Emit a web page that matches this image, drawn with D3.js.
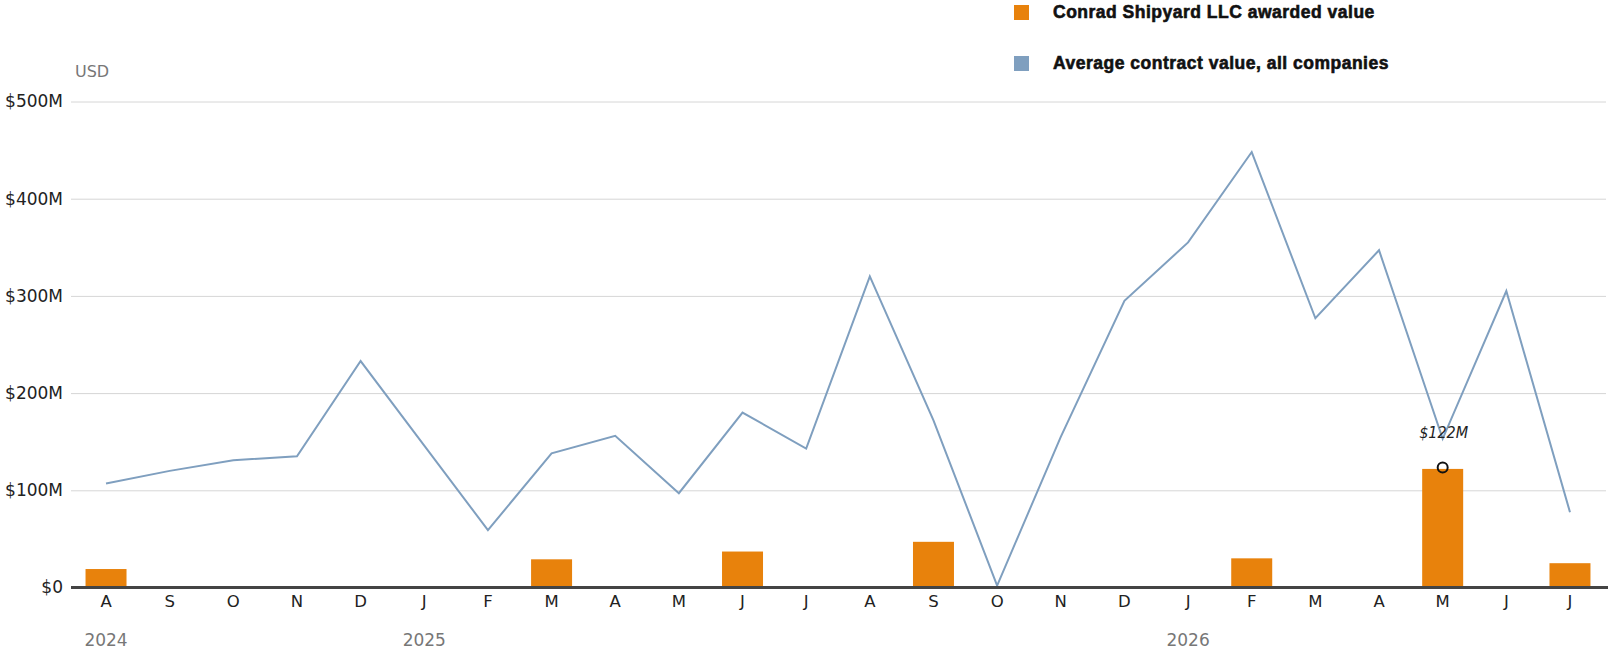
<!DOCTYPE html>
<html>
<head>
<meta charset="utf-8">
<script src="https://cdn.jsdelivr.net/npm/d3@7"></script>
<style>
  html, body { margin: 0; padding: 0; background: #fff; }
  svg { display: block; }
</style>
</head>
<body>
<svg id="chart" width="1610" height="656"></svg>
<script>
// ---- Data ----
const months = ["2024-08","2024-09","2024-10","2024-11","2024-12","2025-01","2025-02","2025-03","2025-04","2025-05","2025-06","2025-07",
                "2025-08","2025-09","2025-10","2025-11","2025-12","2026-01","2026-02","2026-03","2026-04","2026-05","2026-06","2026-07"];
const monthLabels = ["A","S","O","N","D","J","F","M","A","M","J","J","A","S","O","N","D","J","F","M","A","M","J","J"];
const conradValues = [19,0,0,0,0,0,0,29,0,0,37,0,0,47,0,0,0,0,30,0,0,122,0,25];
const avgValues = [107,120,131,135,233,146,59,138,156,97,180,143,320,172,2,155,295,355,448,277,347,153,305,77.5];
const yTicks = [0,100,200,300,400,500];
const yTickLabels = ["$0","$100M","$200M","$300M","$400M","$500M"];
const yearMonths = ["2024-08","2025-01","2026-01"];
const yearLabels = ["2024","2025","2026"];
const seriesNames = ["Conrad Shipyard LLC awarded value","Average contract value, all companies"];
const seriesColors = ["#e8820c","#7f9fbf"];
const annotationMonth = "2026-05";
const annotationValue = 122;
const annotationLabel = "$122M";

// ---- Layout ----
const svg = d3.select("#chart");
const plotLeft = 71, plotRight = 1606;
const x = d3.scaleBand().domain(months).range([74.2, 1601.8]).paddingInner(0.356).paddingOuter(0.178);
const y = d3.scaleLinear().domain([0, 500]).range([587.5, 101.5]);
const xc = d => x(d) + x.bandwidth() / 2;
const font = "'DejaVu Sans', sans-serif";

// Grid + y labels
const yAxis = svg.append("g").attr("transform", `translate(${plotLeft},0)`)
  .call(d3.axisLeft(y).tickValues(yTicks).tickFormat((d, i) => yTickLabels[i])
    .tickSizeInner(-(plotRight - plotLeft)).tickSizeOuter(0).tickPadding(8));
yAxis.select(".domain").remove();
yAxis.selectAll(".tick line").attr("stroke", "#d6d6d6").attr("stroke-width", 1);
yAxis.selectAll(".tick text").attr("font-family", font).attr("font-size", 17).attr("fill", "#222");

// USD label
svg.append("text").attr("x", 75).attr("y", 76.5).attr("font-family", font)
  .attr("font-size", 16).attr("fill", "#777").text("USD");

// Bars
svg.append("g").selectAll("rect").data(months).join("rect")
  .attr("x", d => x(d)).attr("width", x.bandwidth())
  .attr("y", (d, i) => y(conradValues[i]))
  .attr("height", (d, i) => y(0) - y(conradValues[i]))
  .attr("fill", seriesColors[0]);

// Line
const line = d3.line().x((d, i) => xc(months[i])).y(d => y(d));
svg.append("path").datum(avgValues).attr("d", line)
  .attr("fill", "none").attr("stroke", seriesColors[1]).attr("stroke-width", 2)
  .attr("stroke-linejoin", "miter");

// X axis
const xAxis = svg.append("g").attr("transform", `translate(0,${y(0)})`)
  .call(d3.axisBottom(x).tickFormat((d, i) => monthLabels[i]).tickSize(0).tickPadding(0));
xAxis.select(".domain").remove();
xAxis.selectAll(".tick text").attr("dy", null).attr("y", 19)
  .attr("font-family", font).attr("font-size", 16.5).attr("fill", "#222");

// baseline
svg.append("line").attr("x1", plotLeft).attr("x2", 1608).attr("y1", y(0)).attr("y2", y(0))
  .attr("stroke", "#444").attr("stroke-width", 3);

// Year labels
svg.append("g").selectAll("text").data(yearMonths).join("text")
  .attr("x", d => xc(d)).attr("y", 646).attr("text-anchor", "middle")
  .attr("font-family", font).attr("font-size", 17).attr("fill", "#777")
  .text((d, i) => yearLabels[i]);

// Annotation
svg.append("circle").attr("cx", xc(annotationMonth)).attr("cy", y(annotationValue) - 1.5)
  .attr("r", 5).attr("fill", "none").attr("stroke", "#111").attr("stroke-width", 2);
svg.append("text").attr("x", xc(annotationMonth) + 1).attr("y", 438).attr("text-anchor", "middle")
  .attr("font-family", "'Liberation Sans Narrow', 'DejaVu Sans Condensed', sans-serif")
  .attr("font-style", "italic").attr("font-stretch", "condensed")
  .attr("font-size", 16).attr("fill", "#222").text(annotationLabel);

// Legend
const legend = svg.append("g");
seriesNames.forEach((name, i) => {
  const gy = 5 + i * 51;
  legend.append("rect").attr("x", 1014).attr("y", gy).attr("width", 15).attr("height", 15)
    .attr("fill", seriesColors[i]);
  legend.append("text").attr("x", 1053).attr("y", gy + 12.5)
    .attr("font-family", "'Liberation Sans', Arial, sans-serif").attr("font-weight", 900)
    .attr("font-size", 17.5).attr("letter-spacing", 0.5).attr("fill", "#111")
    .attr("stroke", "#111").attr("stroke-width", 0.6)
    .text(name);
});
</script>
</body>
</html>
